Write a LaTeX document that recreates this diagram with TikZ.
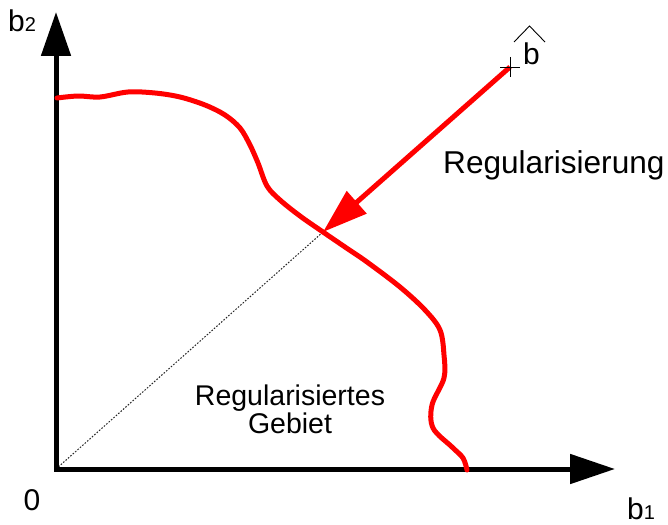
\documentclass[tikz,border=0pt]{standalone}
\usepackage{fontspec}
\setmainfont{Liberation Sans}
\usetikzlibrary{arrows.meta}
\tikzset{
  axis/.style={line width=5pt, line join=miter},
  redline/.style={red, line width=5pt, line cap=round, line join=round},
  lbl/.style={inner sep=0pt, font=\fontsize{30}{30}\selectfont},
  thin black/.style={black, line width=0.9pt},
}
\begin{document}
\begin{tikzpicture}[x=1pt,y=-1pt]
\useasboundingbox (0,0) rectangle (668,524);
% coordinates
\coordinate (O) at (56,469);
\coordinate (Y) at (56,12);
\coordinate (X) at (615,469);
\coordinate (bhat) at (510,67);
\coordinate (P) at (323,232);
% dotted diagonal
\draw[black!85, line width=1pt, dash pattern=on 1.6pt off 1.6pt] (O) -- (P);
% axes
\draw[axis, {Triangle[length=44pt,width=29pt]}-{Triangle[length=45pt,width=29pt]}] (Y) -- (O) -- (X);
% red boundary curve
\draw[redline] plot[smooth, tension=0.55] coordinates {
 (57,98) (78,96) (100,97) (128,92) (155,93) (180,97) (205,105) (225,115) (240,128)
 (250,145) (258,163) (267,186) (280,200) (300,216) (323,232) (345,247) (367,262)
 (400,287) (425,310) (440,330) (444,355) (444,378) (432,405) (433,428) (452,447) (463,458) (467,470)};
% regularisation arrow
\draw[red, line width=5pt, -{Triangle[length=45pt,width=29pt]}] (bhat) -- (P);
% b hat marker
\draw[thin black] (500,67) -- (520,67) (510,57) -- (510,77);
\draw[thin black] (514,42) -- (529.5,26) -- (545,42);
\node[lbl, anchor=base west] (bh) at (523,65) {b};
% labels
\node[lbl, anchor=base west] (b2) at (8,32) {b{\fontsize{20}{20}\selectfont 2}};
\node[lbl, anchor=base west] (b1) at (627,519) {b{\fontsize{20}{20}\selectfont 1}};
\node[lbl, anchor=center] (zero) at (32,500) {0};
\node[lbl, anchor=base west, font=\fontsize{31.6}{32}\selectfont] (reg) at (443,173) {Regularisierung};
\node[lbl, anchor=base, align=center, font=\fontsize{28.5}{28}\selectfont] (gebiet) at (290,433) {Regularisiertes\\Gebiet};
\end{tikzpicture}
\end{document}
